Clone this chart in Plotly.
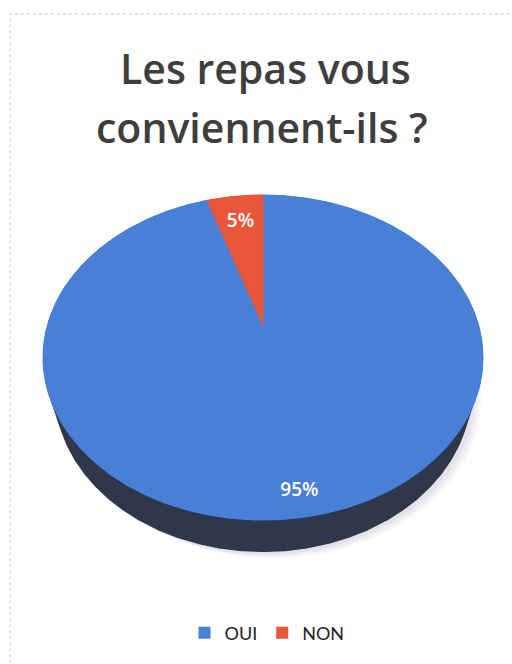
import numpy as np
import plotly.graph_objects as go

# ---- data ----
categories = ["OUI", "NON"]
values = [95, 5]
title_lines = ["Les repas vous", "conviennent-ils ?"]

# ---- style ----
colors = {"OUI": "#4a7fd6", "NON": "#e8573a"}
edge_colors = {"OUI": "#3d86e8", "NON": "#e8573a"}
label_r = {"OUI": 0.89, "NON": 0.77}
side_color = "#31374a"
FONT = "Lato"
TITLE_FONT = "Open Sans"

W, H = 512, 664
APEX_X, APEX_Y = 263, 325          # pixel position of pie centre (from top-left)

# perspective projection of a tilted disc
C = 0.69
S = float(np.sqrt(1 - C * C))
D = 5 * C
K = 1078 * C
T = 0.253                           # disc thickness


def project(theta_deg, r=1.0, y=0.0):
    th = np.radians(theta_deg)
    X = r * np.sin(th)
    Z = r * np.cos(th)
    depth = D + Z * C - y * S
    u = y * C + Z * S
    return K * X / depth, K * u / depth


def hull(pts):
    pts = sorted(set(pts))
    def cross(o, a, b):
        return (a[0] - o[0]) * (b[1] - o[1]) - (a[1] - o[1]) * (b[0] - o[0])
    lower, upper = [], []
    for p in pts:
        while len(lower) >= 2 and cross(lower[-2], lower[-1], p) <= 0:
            lower.pop()
        lower.append(p)
    for p in reversed(pts):
        while len(upper) >= 2 and cross(upper[-2], upper[-1], p) <= 0:
            upper.pop()
        upper.append(p)
    return lower[:-1] + upper[:-1]


fig = go.Figure()

ang = np.linspace(0, 360, 721)
tx, ty = project(ang)
bx, by = project(ang, y=-T)

# soft shadow
for off, op in [(10, 0.04), (7, 0.05), (4, 0.06)]:
    sh = hull([(round(float(a) + off, 2), round(float(b) - off * 0.6, 2)) for a, b in zip(bx, by)])
    fig.add_trace(go.Scatter(x=[p[0] for p in sh] + [sh[0][0]], y=[p[1] for p in sh] + [sh[0][1]],
                             mode="lines", fill="toself", fillcolor=f"rgba(60,60,90,{op})",
                             line=dict(width=0), hoverinfo="skip", showlegend=False))

# side of the disc
side = hull([(round(float(a), 2), round(float(b), 2)) for a, b in zip(np.r_[tx, bx], np.r_[ty, by])])
fig.add_trace(go.Scatter(x=[p[0] for p in side] + [side[0][0]], y=[p[1] for p in side] + [side[0][1]],
                         mode="lines", fill="toself", fillcolor=side_color,
                         line=dict(width=0), hoverinfo="skip", showlegend=False))

# top-face slices
total = sum(values)
start = 0.0
label_x, label_y, label_t = [], [], []
for cat, v in zip(categories, values):
    sweep = 360.0 * v / total
    a = np.linspace(start, start + sweep, max(int(sweep * 2), 4))
    px, py = project(a)
    xs = np.r_[0, px, 0]
    ys = np.r_[0, py, 0]
    fig.add_trace(go.Scatter(x=xs, y=ys, mode="lines", fill="toself",
                             fillcolor=colors[cat], line=dict(color=edge_colors[cat], width=1),
                             name=cat, hoverinfo="name", showlegend=False))
    mx, my = project(start + sweep / 2, r=label_r[cat])
    label_x.append(float(mx)); label_y.append(float(my))
    label_t.append(f"{round(100 * v / total)}%")
    start += sweep

fig.add_trace(go.Scatter(x=label_x, y=label_y, mode="text", text=label_t,
                         textfont=dict(family=TITLE_FONT, size=19, color="white", weight=600),
                         hoverinfo="skip", showlegend=False))

# legend entries
for cat in categories:
    fig.add_trace(go.Scatter(x=[None], y=[None], mode="markers", name=cat,
                             marker=dict(symbol="square", size=12, color=colors[cat])))

title_font = dict(family=TITLE_FONT, size=41, color="#3e3e3e", weight=600)
fig.update_layout(
    width=W, height=H,
    margin=dict(l=0, r=0, t=0, b=0),
    paper_bgcolor="white", plot_bgcolor="white",
    xaxis=dict(range=[-APEX_X, W - APEX_X], visible=False, fixedrange=True),
    yaxis=dict(range=[-(H - APEX_Y), APEX_Y], visible=False, fixedrange=True),
    showlegend=True,
    legend=dict(orientation="h", x=267 / W, xanchor="center", y=1 - 633 / H, yanchor="middle",
                font=dict(family=FONT, size=18, color="#222222"), itemwidth=30,
                bgcolor="rgba(0,0,0,0)"),
    annotations=[
        dict(text=title_lines[0], x=265 / W, y=1 - 68 / H, xref="paper", yref="paper",
             xanchor="center", yanchor="middle", showarrow=False, font=title_font),
        dict(text=title_lines[1], x=262 / W, y=1 - 127 / H, xref="paper", yref="paper",
             xanchor="center", yanchor="middle", showarrow=False, font=title_font),
    ],
    shapes=[dict(type="rect", xref="paper", yref="paper", x0=10 / W, x1=1.02, y0=-0.02, y1=1 - 14 / H,
                 line=dict(color="#c4c4c4", width=1, dash="dot"))],
)

fig.write_html("out.html")
